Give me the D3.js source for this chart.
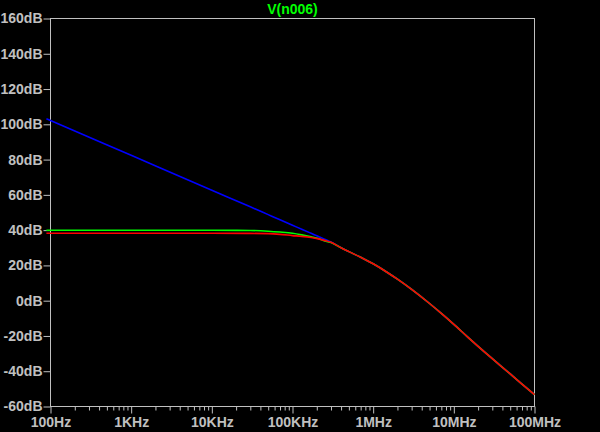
<!DOCTYPE html>
<html>
<head>
<meta charset="utf-8">
<script src="https://cdn.jsdelivr.net/npm/d3@7"></script>
<style>
  html, body { margin: 0; padding: 0; background: #000; }
  svg { display: block; }
  text { font-family: "Liberation Sans", Arial, sans-serif; font-weight: bold; }
</style>
</head>
<body>
<svg id="chart" width="600" height="432"></svg>
<script>
// ---- data ----
const title = "V(n006)";
const freqs = [89, 100, 1e3, 1e4, 3e4, 5e4, 7e4, 1e5, 1.3e5, 1.7e5, 2.1e5, 2.5e5, 3e5,
               4e5, 5e5, 7e5, 1e6, 1.5e6, 2e6, 3e6, 5e6, 7e6, 1e7, 1.5e7, 2e7, 3e7, 5e7, 7e7, 1e8];
const blueDb  = [103.2, 102.2, 82.4, 62.6, 53.2, 48.8, 45.9, 42.8, 40.5, 38.2, 36.4, 34.9, 33.3,
                 30.0, 27.8, 24.6, 20.9, 16.0, 12.2, 6.4, -1.6, -7.2, -13.4, -20.8, -25.9, -32.9, -41.5, -47.3, -53.3];
const greenDb = [39.9, 39.9, 39.9, 39.9, 39.8, 39.4, 38.9, 38.2, 37.3, 36.2, 35.2, 33.9, 33.0,
                 30.0, 27.8, 24.6, 20.9, 16.0, 12.2, 6.4, -1.6, -7.2, -13.4, -20.8, -25.9, -32.9, -41.5, -47.3, -53.3];
const redDb   = [38.2, 38.2, 38.2, 38.2, 38.15, 38.0, 37.6, 36.9, 36.45, 35.8, 35.05, 34.2, 33.1,
                 30.0, 27.8, 24.6, 20.9, 16.0, 12.2, 6.4, -1.6, -7.2, -13.4, -20.8, -25.9, -32.9, -41.5, -47.3, -53.3];
const xTickValues = [1e2, 1e3, 1e4, 1e5, 1e6, 1e7, 1e8];
const xTickLabels = ["100Hz", "1KHz", "10KHz", "100KHz", "1MHz", "10MHz", "100MHz"];
const yTickValues = [-60, -40, -20, 0, 20, 40, 60, 80, 100, 120, 140, 160];

// ---- drawing ----
const svg = d3.select("#chart");
const gray = "#c0c0c0";
const x = d3.scaleLog().domain([1e2, 1e8]).range([50.5, 534.5]);
const y = d3.scaleLinear().domain([-60, 160]).range([406.5, 18.5]);

svg.append("rect").attr("width", 600).attr("height", 432).attr("fill", "#000");

// minor x ticks
const minor = [];
for (let d = 2; d < 8; d++) for (let m = 2; m <= 9; m++) minor.push(m * Math.pow(10, d));
svg.append("g").attr("transform", "translate(0,406.5)")
  .call(d3.axisBottom(x).tickValues(minor).tickSize(4).tickFormat(""))
  .call(g => g.select(".domain").remove())
  .call(g => g.selectAll("line").attr("stroke", gray));

// major x ticks
svg.append("g").attr("transform", "translate(0,406.5)")
  .call(d3.axisBottom(x).tickValues(xTickValues).tickSize(7).tickPadding(4)
        .tickFormat((d, i) => xTickLabels[i]))
  .call(g => g.select(".domain").remove())
  .call(g => g.selectAll("line").attr("stroke", gray))
  .call(g => g.selectAll("text").attr("fill", gray).style("font-size", "14px")
        .style("font-family", "'Liberation Sans', Arial, sans-serif").style("font-weight", "bold"));

// y axis
svg.append("g").attr("transform", "translate(50.5,0)")
  .call(d3.axisLeft(y).tickValues(yTickValues).tickSize(7).tickPadding(1)
        .tickFormat(d => d + "dB"))
  .call(g => g.select(".domain").remove())
  .call(g => g.selectAll("line").attr("stroke", gray))
  .call(g => g.selectAll("text").attr("fill", gray).style("font-size", "14px")
        .style("font-family", "'Liberation Sans', Arial, sans-serif").style("font-weight", "bold"));

// frame
svg.append("rect")
  .attr("x", x(1e2)).attr("y", y(160))
  .attr("width", x(1e8) - x(1e2)).attr("height", y(-60) - y(160))
  .attr("fill", "none").attr("stroke", gray).attr("stroke-width", 1);

// traces
const line = d3.line().x(d => x(d[0])).y(d => y(d[1])).curve(d3.curveMonotoneX);
const series = [
  { vals: blueDb, color: "#0000ff" },
  { vals: greenDb, color: "#00ff00" },
  { vals: redDb, color: "#ff0000" }
];
series.forEach(s => {
  svg.append("path")
    .datum(freqs.map((f, i) => [f, s.vals[i]]))
    .attr("d", line)
    .attr("fill", "none")
    .attr("stroke", s.color)
    .attr("stroke-width", 1.6);
});

// title
svg.append("text")
  .attr("x", (x(1e2) + x(1e8)) / 2).attr("y", 14)
  .attr("text-anchor", "middle")
  .attr("fill", "#00ff00")
  .style("font-size", "14px")
  .text(title);
</script>
</body>
</html>
